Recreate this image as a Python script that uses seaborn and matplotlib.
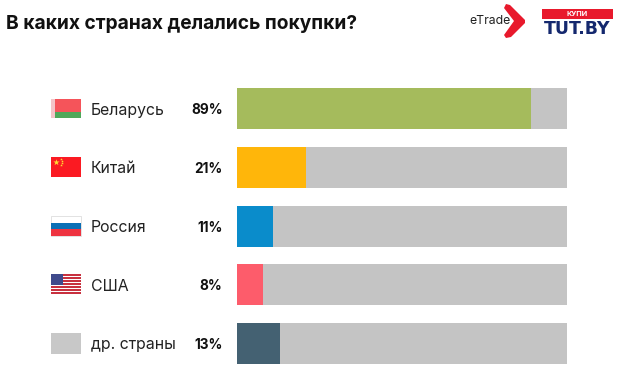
#!/usr/bin/env python3
from matplotlib import pyplot as plt
from matplotlib.patches import Rectangle, Polygon
import pandas as pd
import seaborn as sns

title = 'В каких странах делались покупки?'
countries = ['Беларусь', 'Китай', 'Россия', 'США', 'др. страны']
shares = [89, 21, 11, 8, 13]
totals = [100, 100, 100, 100, 100]
share_labels = ['89%', '21%', '11%', '8%', '13%']
bar_colors = ['#a5bb5c', '#ffb60a', '#0a8ccb', '#fd5c6b', '#446172']

df = pd.DataFrame({'country': countries, 'share': shares, 'total': totals})

sns.set_theme(style='white', rc={'font.family': 'Inter'})
plt.rcParams['font.family'] = ['Inter', 'DejaVu Sans']

W, H = 620, 376
fig = plt.figure(figsize=(W / 100, H / 100), dpi=100)

# bars: axes span runs from first bar top to last bar bottom
top, bottom, left, right = 88, 364, 237, 567
pitch = (323 - 88) / 4
ax = fig.add_axes([left / W, 1 - bottom / H, (right - left) / W, (bottom - top) / H])
width = 41 / pitch
sns.barplot(data=df, y='country', x='total', color='#c4c4c4', width=width, saturation=1,
            linewidth=0, ax=ax)
sns.barplot(data=df, y='country', x='share', hue='country', palette=bar_colors,
            width=width, saturation=1, linewidth=0, legend=False, ax=ax)
ax.set_xlim(0, 100)
ax.set_ylim(4 + width / 2, -width / 2)
ax.axis('off')

# overlay in pixel coords for text, flags and logos
ov = fig.add_axes([0, 0, 1, 1], zorder=5)
ov.set_xlim(0, W)
ov.set_ylim(H, 0)
ov.axis('off')
ov.patch.set_alpha(0)


def rect(x0, y0, x1, y1, color, **kw):
    ov.add_patch(Rectangle((x0, y0), x1 - x0, y1 - y0, facecolor=color, edgecolor='none', **kw))


ov.text(6, 24, title, fontsize=13.8, fontweight='bold', color='#111111', va='center', ha='left')

for i, (name, lab) in enumerate(zip(countries, share_labels)):
    yc = 110 + i * pitch
    ov.text(91, yc, name, fontsize=11.4, color='#222222', va='center', ha='left')
    ov.text(222.5, yc, lab, fontsize=9.8, fontweight='bold', color='#111111', va='center', ha='right')

# Belarus
rect(51, 99, 55, 118, '#f4c4c8')
rect(55, 99, 81, 112, '#f5545a')
rect(55, 112, 81, 118, '#4fa85a')
# China
rect(51, 157, 81, 177, '#fb1a22')
ov.scatter([56], [161.5], marker='*', s=22, color='#ffdd33', linewidths=0, zorder=3)
ov.scatter([60.5, 62, 62, 60.5], [158.8, 160.6, 163, 165], marker='*', s=4, color='#ffdd33',
           linewidths=0, zorder=3)
# Russia
rect(51, 215.5, 81, 222, '#ffffff')
ov.add_patch(Rectangle((51, 215.5), 30, 20.5, facecolor='none', edgecolor='#dddddd', linewidth=0.6))
rect(51, 222.5, 81, 229, '#0a6fb5')
rect(51, 229, 81, 236, '#ee3340')
# USA
rect(51, 274, 81, 295, '#ffffff')
for k in range(7):
    rect(51, 274 + k * 3, 81, 275.5 + k * 3, '#c8313f')
rect(51, 274, 63, 285, '#3f4a8c')
# other
rect(51, 333, 81, 353.5, '#c8c8c8')

# logos
ov.text(469, 21, 'eTrade', fontsize=8.8, color='#222222', va='center', ha='left')
ov.add_patch(Polygon([(506, 4), (510, 5), (525, 20), (525, 23), (511, 37), (506, 38), (504, 35),
                      (514, 21), (504, 8)], closed=True, facecolor='#e8192c', edgecolor='none'))
rect(542, 9, 613, 18.5, '#e8192c')
ov.text(577.5, 14, 'КУПИ', fontsize=5.2, color='#ffffff', fontweight='bold', va='center', ha='center')
ov.text(577.5, 29, 'TUT.BY', fontsize=12.5, color='#14286e', fontweight='bold', va='center', ha='center',
        family=['DejaVu Sans'])

fig.savefig('out.png', dpi=100, facecolor='white')
